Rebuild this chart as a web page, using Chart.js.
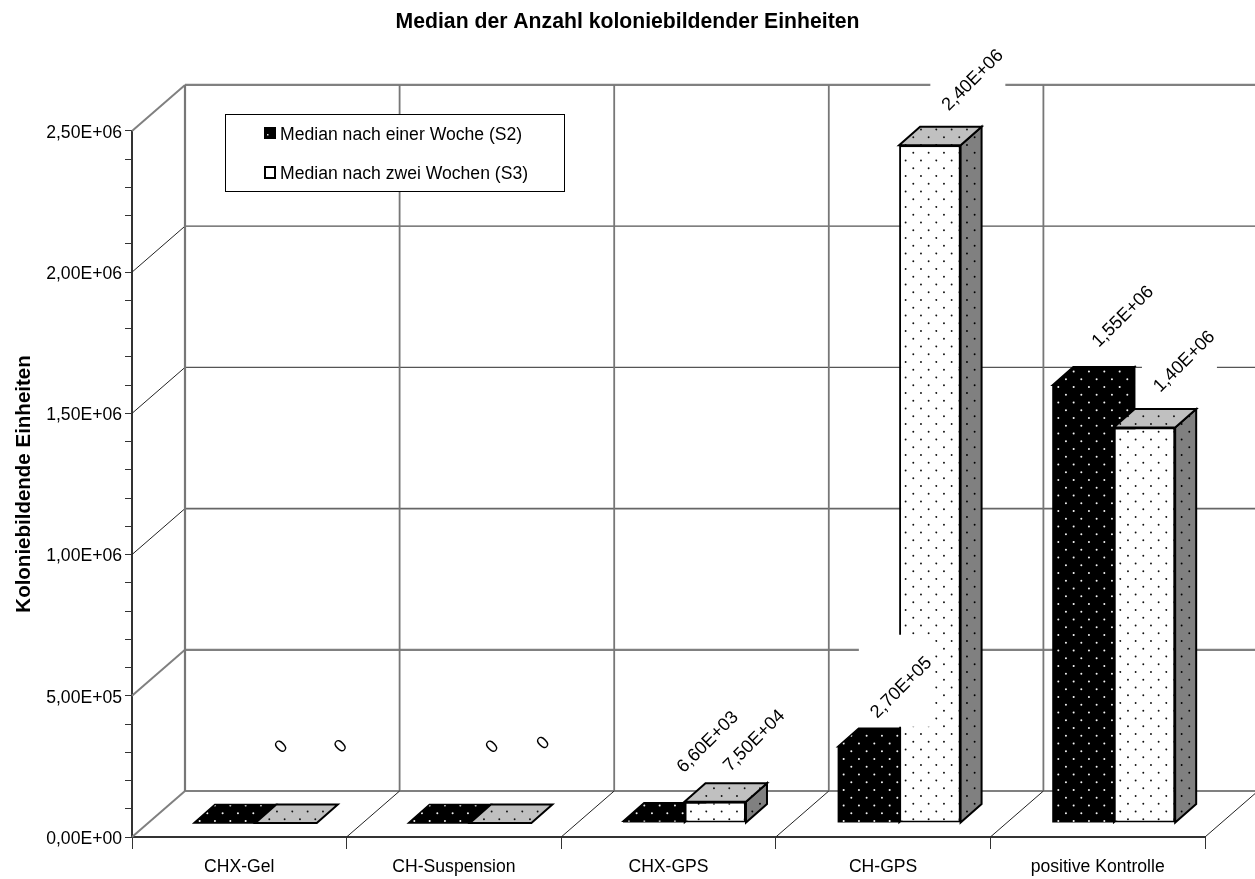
<!DOCTYPE html>
<html><head><meta charset="utf-8">
<style>html,body{margin:0;padding:0;background:#fff}canvas{display:block}</style>
<script src="https://cdn.jsdelivr.net/npm/chart.js@4"></script>
</head><body><canvas id="c" width="1255" height="879"></canvas>
<script>
const categories = ['CHX-Gel','CH-Suspension','CHX-GPS','CH-GPS','positive Kontrolle'];
const seriesNames = ['Median nach einer Woche (S2)','Median nach zwei Wochen (S3)'];
const medianS2 = [0, 0, 6600, 270000, 1550000];
const medianS3 = [0, 0, 75000, 2400000, 1400000];
const labelsS2 = ['0','0','6,60E+03','2,70E+05','1,55E+06'];
const labelsS3 = ['0','0','7,50E+04','2,40E+06','1,40E+06'];
const yTickLabels = ['0,00E+00','5,00E+05','1,00E+06','1,50E+06','2,00E+06','2,50E+06'];
const chartTitle = 'Median der Anzahl koloniebildender Einheiten';
const yTitle = 'Koloniebildende Einheiten';

const FONT = '"Liberation Sans", Arial, sans-serif';
const FS = 17.6;
const WALL = {dx:53, dy:-46}, SHIFT = {dx:16, dy:-14}, DEPTH = {dx:21, dy:-18.5};

function dots(fill, dot, px, py, r){
  const W=46,H=31,c=document.createElement('canvas');c.width=W;c.height=H;
  const g=c.getContext('2d');g.fillStyle=fill;g.fillRect(0,0,W,H);g.fillStyle=dot;
  for(let i=-2;i<8;i++)for(let j=-2;j<6;j++){
    if(((i+j)%2+2)%2)continue;
    g.beginPath();g.arc(px+i*W/6,py+j*H/4,r,0,7);g.fill();
  }
  return g.createPattern(c,'repeat');
}
const ctx0=document.getElementById('c').getContext('2d');
const P={
  blackFront:dots('#000','#f4f4f4',7.3,5.8,1),
  whiteFront:dots('#fff','#111',.3,3.95,.95),
  grayTop:dots('#c0c0c0','#111',.3,3.95,.95),
  graySide:dots('#808080','#000',.3,3.95,.95)
};
function poly(c,pts,fill,stroke,lw){
  c.beginPath();pts.forEach((p,i)=>i?c.lineTo(p[0],p[1]):c.moveTo(p[0],p[1]));c.closePath();
  c.fillStyle=fill;c.fill();
  if(stroke){c.strokeStyle=stroke;c.lineWidth=lw;c.lineJoin='miter';c.stroke();}
}
function line(c,x1,y1,x2,y2,col,w){c.beginPath();c.moveTo(x1,y1);c.lineTo(x2,y2);c.strokeStyle=col;c.lineWidth=w;c.stroke();}
const nudge=[[[56,-77],[52.3,-77],[53,-80],[32,-60],[39,-69.5]],[[54,-77.5],[41.7,-80.7],[38,-62],[42,-66],[39,-67]]];
const wallStyle=[['#808080',2.2],['#808080',2.2],['#666',1.8],['#555',1.3],['#555',1.2],['#808080',2.2]];

const threeD={
  id:'threeD',
  afterLayout(ch){
    ch.titleBlock.left+=25;ch.titleBlock.right+=25;
    const s=ch.scales.y;
    if(!s._shifted){
      s._shifted=true;
      const orig=s.drawLabels;
      s.drawLabels=function(a){ch.ctx.save();ch.ctx.translate(0,2);orig.call(this,a);ch.ctx.restore();};
    }
  },
  beforeDatasetsDraw(ch){
    const c=ch.ctx,x=ch.scales.x,y=ch.scales.y,W=WALL;
    const step=x.getPixelForValue(1)-x.getPixelForValue(0);
    const L=x.left,R=x.right;
    c.save();
    yTickLabels.forEach((_,i)=>{
      const py=y.getPixelForValue(i*500000);
      const [col,w]=wallStyle[i];
      const heavy=w>2;
      line(c,L+W.dx,py+W.dy,R+W.dx,py+W.dy,col,w);
      line(c,L,py,L+W.dx,py+W.dy,heavy?'#808080':'#222',heavy?2:1);
    });
    for(let i=0;i<=categories.length;i++){
      const px=x.getPixelForValue(0)-step/2+i*step;
      line(c,px+W.dx,y.getPixelForValue(0)+W.dy,px+W.dx,y.getPixelForValue(2500000)+W.dy,'#777',i===0?2.2:1.8);
      if(i>0)line(c,px,y.getPixelForValue(0),px+W.dx,y.getPixelForValue(0)+W.dy,'#222',1);
    }
    c.restore();
    c.save();
    c.translate(SHIFT.dx,SHIFT.dy);
    const D=DEPTH;
    [0,1].forEach(ds=>{
      ch.getDatasetMeta(ds).data.forEach(b=>{
        const l=b.x-b.width/2,r=b.x+b.width/2,t=b.y,bt=b.base;
        const top=[[l,t],[r,t],[r+D.dx,t+D.dy],[l+D.dx,t+D.dy]];
        const side=[[r,t],[r+D.dx,t+D.dy],[r+D.dx,bt+D.dy],[r,bt]];
        if(ds===0){
          poly(c,side,P.blackFront,'#000',1.5);
          poly(c,top,P.blackFront,'#000',1.5);
        }else{
          if(bt-t>.5)poly(c,side,P.graySide,'#000',2);
          poly(c,top,P.grayTop,'#000',2);
        }
      });
    });
  },
  afterDatasetsDraw(ch){
    const c=ch.ctx;
    c.restore();
    c.save();
    const items=[];
    [[labelsS2,0],[labelsS3,1]].forEach(([labs,ds])=>{
      ch.getDatasetMeta(ds).data.forEach((b,i)=>{
        items.push({t:labs[i],x:b.x+SHIFT.dx+nudge[ds][i][0],y:b.y+SHIFT.dy+nudge[ds][i][1]});
      });
    });
    c.font='18.2px '+FONT;c.textAlign='center';c.textBaseline='middle';
    items.forEach(it=>{
      if(it.t.length<2)return;
      c.fillStyle='#fff';c.fillRect(it.x-41.5,it.y-52,75,92);
    });
    items.forEach(it=>{
      c.save();c.translate(it.x,it.y);c.rotate(-Math.PI/4);c.fillStyle='#000';c.fillText(it.t,0,1.5);c.restore();
    });
    // legend
    c.font=FS+'px '+FONT;
    c.fillStyle='#fff';c.fillRect(225.5,114.5,339,77);
    c.strokeStyle='#000';c.lineWidth=1;c.strokeRect(225.5,114.5,339,77);
    poly(c,[[264,127],[276,127],[276,139],[264,139]],'#000');
    c.fillStyle='#ddd';c.fillRect(267,134,1.5,1.5);
    poly(c,[[265,167],[275,167],[275,178],[265,178]],'#fff','#000',2);
    c.fillStyle='#000';c.textAlign='left';
    c.fillText(seriesNames[0],280,135);c.fillText(seriesNames[1],280,174);
    c.restore();
  }
};

new Chart(ctx0,{
  type:'bar',
  data:{labels:categories,datasets:[
    {label:seriesNames[0],data:medianS2,backgroundColor:P.blackFront,borderColor:'#000',borderWidth:0,clip:false,barPercentage:1,categoryPercentage:.573},
    {label:seriesNames[1],data:medianS3,backgroundColor:P.whiteFront,borderColor:'#000',borderWidth:2,borderSkipped:false,clip:false,barPercentage:1,categoryPercentage:.573}
  ]},
  plugins:[threeD],
  options:{
    responsive:false,animation:false,devicePixelRatio:1,
    layout:{padding:{left:0,right:50,top:0,bottom:0}},
    plugins:{
      legend:{display:false},tooltip:{enabled:false},
      title:{display:true,text:chartTitle,color:'#000',font:{family:FONT,size:21.2,weight:'bold'},padding:{top:9.5,bottom:96}}
    },
    scales:{
      x:{
        afterFit(s){s.height=42;},
        grid:{drawOnChartArea:false,offset:true,tickLength:12,tickColor:'#333',tickWidth:1},
        border:{color:'#333',width:2},
        ticks:{color:'#000',font:{family:FONT,size:FS},padding:8,maxRotation:0,autoSkip:false}
      },
      y:{
        min:0,max:2500000,
        afterFit(s){s.width=132;},
        grid:{drawOnChartArea:false,tickLength:7,tickColor:'#333',tickWidth:1},
        border:{color:'#333',width:2},
        ticks:{color:'#000',font:{family:FONT,size:FS},padding:3,stepSize:100000,autoSkip:false,
          callback:v=>v%500000===0?yTickLabels[v/500000]:''},
        title:{display:true,text:yTitle,color:'#000',font:{family:FONT,size:20.5,weight:'bold'},padding:{top:12,bottom:0}}
      }
    }
  }
});
</script></body></html>
